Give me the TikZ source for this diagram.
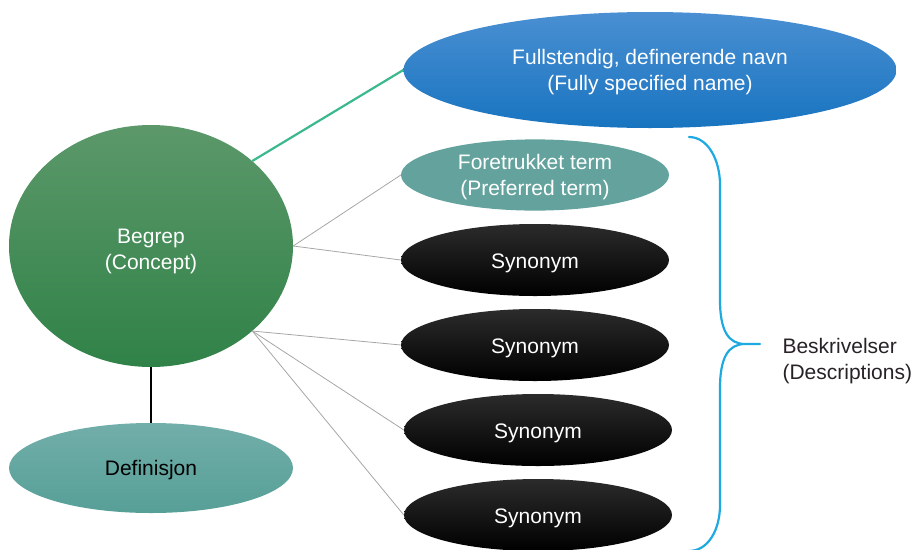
\documentclass[tikz,border=0pt]{standalone}
\usepackage{fontspec}
\setmainfont{Liberation Sans}
\usepackage{xcolor}
\usepackage{tikz}
\usetikzlibrary{shapes.geometric,positioning}
\definecolor{conceptlight}{RGB}{92,152,106}
\definecolor{conceptdark}{RGB}{48,130,72}
\definecolor{fsnlight}{RGB}{74,143,210}
\definecolor{fsndark}{RGB}{24,116,192}
\definecolor{termcolor}{RGB}{100,163,157}
\definecolor{deflight}{RGB}{114,174,170}
\definecolor{defdark}{RGB}{86,159,151}
\definecolor{fsnline}{RGB}{60,184,142}
\definecolor{bracecolor}{RGB}{31,169,225}
\definecolor{textdark}{RGB}{40,34,38}

\begin{document}
\begin{tikzpicture}[
    x=1pt, y=-1pt,
    node distance=85pt,
    blob/.style={ellipse, draw=none, inner sep=0pt, align=center, text=white,
        text height=21pt, font=\fontsize{21}{26}\selectfont},
    twoline/.style={blob, text height=46pt},
    synbox/.style={blob, minimum width=268pt, minimum height=72pt,
        top color=black!83, bottom color=black},
    thin/.style={gray!70, line width=0.8pt}
]
    \useasboundingbox (0,0) rectangle (917,549);

    % Nodes
    \node[twoline, minimum width=284pt, minimum height=242pt, text height=52pt,
        top color=conceptlight, bottom color=conceptdark] (concept) at (151,246) {Begrep\\(Concept)};
    \node[blob, minimum width=284pt, minimum height=90pt, text=black, text height=19pt,
        top color=deflight, bottom color=defdark] (definition) at (151,468) {Definisjon};
    \node[twoline, minimum width=493pt, minimum height=116pt,
        top color=fsnlight, bottom color=fsndark] (fsn) at (650,70) {Fullstendig, definerende navn\\(Fully specified name)};
    \node[twoline, minimum width=268pt, minimum height=70pt, fill=termcolor] (preferred) at (535,175) {Foretrukket term\\(Preferred term)};
    \node[synbox, below of=preferred] (syn1) {Synonym};
    \node[synbox, below of=syn1] (syn2) {Synonym};
    \node[synbox, below of=syn2, xshift=3pt] (syn3) {Synonym};
    \node[synbox, below of=syn3] (syn4) {Synonym};
    \node[anchor=west, align=left, text=textdark, font=\fontsize{21}{26}\selectfont] (descriptions) at (779,361) {Beskrivelser\\(Descriptions)};

    % Lines
    \draw[fsnline, line width=2.2pt] (concept.40) -- (fsn.west);
    \draw[black, line width=1.8pt] (concept.south) -- (definition.north);
    \draw[thin] (concept.east) -- (preferred.west);
    \draw[thin] (concept.east) -- (syn1.west);
    \foreach \s in {syn2,syn3,syn4}
        \draw[thin] (concept.-40) -- (\s.west);

    % Brace
    \draw[bracecolor, line width=2.2pt, line cap=round]
        (689,137) .. controls (708,137) and (720,160) .. (720,185) -- (720,300)
        .. controls (720,330) and (728,344) .. (745,344) -- (760,344)
        (745,344) .. controls (728,344) and (720,358) .. (720,388) -- (720,505)
        .. controls (720,530) and (708,551) .. (689,551);
\end{tikzpicture}
\end{document}
